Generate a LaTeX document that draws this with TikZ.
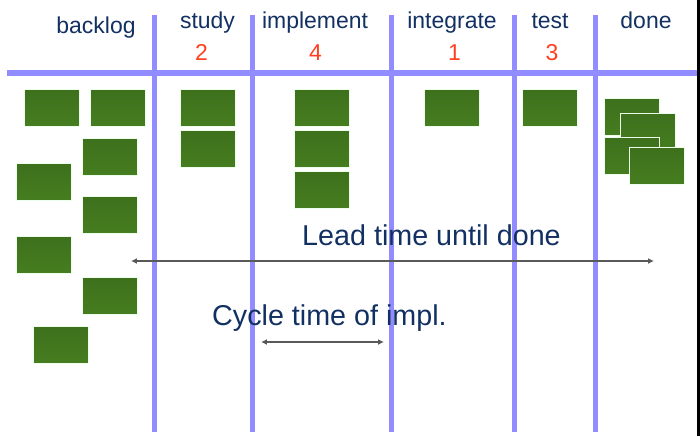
\documentclass[tikz,border=0pt]{standalone}
\usepackage{fontspec}
\setmainfont{Liberation Sans}
\usepackage{xcolor}
\usetikzlibrary{arrows.meta,positioning}
\definecolor{lanecol}{RGB}{145,140,255}
\definecolor{inkcol}{RGB}{18,48,98}
\definecolor{wipcol}{RGB}{255,64,32}
\definecolor{cardtop}{RGB}{62,112,28}
\definecolor{cardmid}{RGB}{88,150,44}
\definecolor{cardbot}{RGB}{70,125,32}
\tikzset{
  lane/.style={line width=5pt, lanecol},
  head/.style={text=inkcol, font=\fontsize{19.6}{22}\selectfont, anchor=base, inner sep=0pt},
  wip/.style={text=wipcol, font=\fontsize{19.6}{22}\selectfont, anchor=base, inner sep=0pt},
  note/.style={text=inkcol, font=\fontsize{24.5}{28}\selectfont, anchor=base west, inner sep=0pt},
  card/.style={draw=green!8!white, line width=0.6pt, top color=cardtop, middle color=cardmid, bottom color=cardbot,
    minimum width=1.66cm, minimum height=1.1cm, inner sep=0pt, anchor=north west},
  span/.style={{Latex[length=5pt,width=5pt]}-{Latex[length=5pt,width=5pt]}, line width=1.2pt, black!65}
}
\begin{document}
\begin{tikzpicture}[x=0.03cm, y=-0.03cm]
  \useasboundingbox (0,0) rectangle (700,436);
  % board lanes
  \coordinate (rowL) at (7,73);
  \coordinate (rowR) at (697,73);
  \draw[lane] (rowL) -- (rowR);
  \foreach \n/\x in {a/154.5, b/252.5, c/391.5, d/514.5, e/595.5} {
    \coordinate (\n top) at (\x,15);
    \coordinate (\n bot) at (\x,432);
    \draw[lane] (\n top) -- (\n bot);
  }
  \fill[black] (697,0) rectangle (700,436);
  % column heads
  \node[head] (backlog) at (96,33.5) {backlog};
  \node[head] (study) at (207.5,28.5) {study};
  \node[head] (impl) at (315,28.5) {implement};
  \node[head] (integ) at (452,28.5) {integrate};
  \node[head] (test) at (550,28.5) {test};
  \node[head] (done) at (646,28.5) {done};
  \node[wip] (studyWip) at (201.5,60) {2};
  \node[wip] (implWip) at (315.5,60) {4};
  \node[wip] (integWip) at (454.5,60) {1};
  \node[wip] (testWip) at (552,60) {3};
  % cards
  \node[card] (b1) at (24,89) {};
  \node[card] (b2) at (90,89) {};
  \node[card] (b3) at (82,138) {};
  \node[card] (b4) at (16,163) {};
  \node[card] (b5) at (82,196) {};
  \node[card] (b6) at (16,236) {};
  \node[card] (b7) at (82,277) {};
  \node[card] (b8) at (33,326) {};
  \node[card] (s1) at (180,89) {};
  \node[card] (s2) at (180,130) {};
  \node[card] (i1) at (294,89) {};
  \node[card] (i2) at (294,130) {};
  \node[card] (i3) at (294,171) {};
  \node[card] (g1) at (424,89) {};
  \node[card] (t1) at (522,89) {};
  \node[card] (d1) at (604,98) {};
  \node[card] (d2) at (620,113) {};
  \node[card] (d3) at (604,137) {};
  \node[card] (d4) at (629,147) {};
  % times
  \node[note] (leadTxt) at (302,245) {Lead time until done};
  \coordinate (leadL) at (131,261);
  \coordinate (leadR) at (654,261);
  \draw[span] (leadL) -- (leadR);
  \node[note] (cycleTxt) at (212,325) {Cycle time of impl.};
  \coordinate (cycleL) at (261,342);
  \coordinate (cycleR) at (384,342);
  \draw[span] (cycleL) -- (cycleR);
\end{tikzpicture}
\end{document}
